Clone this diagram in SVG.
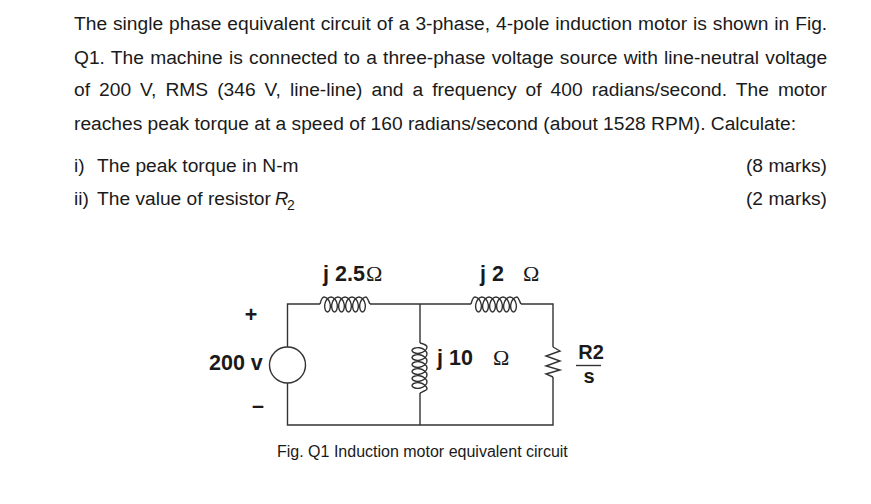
<svg xmlns="http://www.w3.org/2000/svg" width="871" height="504" viewBox="0 0 871 504">
<style>
text{font-family:"Liberation Sans",Arial,sans-serif;fill:#1a1a1a}
.b{font-size:19.2px}
.l{font-weight:bold;font-size:21.500px}
.o{font-family:"Liberation Serif","DejaVu Serif",serif;font-size:22px}
.w{fill:none;stroke:#333;stroke-width:1.400}
</style>
<defs>
<path id="coil" class="w" d="M0 0C1 -4 2 -7 4 -7c2.940 0 5.670 3.570 6.250 7.500c.58 3.930 -.98 7.500 -2.750 7.500c-1.770 0 -3.330 -3.570 -2.750 -7.500c.58 -3.930 3.310 -7.500 6.250 -7.500c2.940 0 5.670 3.570 6.250 7.500c.58 3.930 -.98 7.500 -2.750 7.500c-1.770 0 -3.330 -3.570 -2.750 -7.500c.58 -3.930 3.310 -7.500 6.250 -7.500c2.940 0 5.670 3.570 6.250 7.500c.58 3.930 -.98 7.500 -2.750 7.500c-1.770 0 -3.330 -3.570 -2.750 -7.500c.58 -3.930 3.310 -7.500 6.250 -7.500c2.940 0 5.670 3.570 6.250 7.500c.58 3.930 -.98 7.500 -2.750 7.500c-1.770 0 -3.330 -3.570 -2.750 -7.500c.58 -3.930 3.310 -7.500 6.250 -7.500c2.940 0 5.670 3.570 6.250 7.500c.58 3.930 -.98 7.500 -2.750 7.500c-1.770 0 -3.330 -3.570 -2.750 -7.500c.58 -3.930 3.310 -7.500 6.250 -7.500c2.940 0 5.670 3.570 6.250 7.500c.58 3.930 -.98 7.500 -2.750 7.500c-1.770 0 -3.330 -3.570 -2.750 -7.500c.58 -3.930 3.310 -7.500 6.250 -7.500C47 -7 48.500 -3 50 0"/>
</defs>
<rect width="871" height="504" fill="#fff"/>
<g id="problem-text">
<text class="b" x="74" y="30" word-spacing="0.62">The single phase equivalent circuit of a 3-phase, 4-pole induction motor is shown in Fig.</text>
<text class="b" x="74" y="63.500" word-spacing="0.93">Q1. The machine is connected to a three-phase voltage source with line-neutral voltage</text>
<text class="b" x="74" y="96" word-spacing="3.70">of 200 V, RMS (346 V, line-line) and a frequency of 400 radians/second. The motor</text>
<text class="b" x="74" y="129.500">reaches peak torque at a speed of 160 radians/second (about 1528 RPM). Calculate:</text>
<text class="b" x="74" y="172">i)</text><text class="b" x="97" y="172">The peak torque in N-m</text>
<text class="b" x="827" y="172" text-anchor="end">(8 marks)</text>
<text class="b" x="74" y="205">ii)</text><text class="b" x="97" y="205">The value of resistor</text>
<text x="275" y="205" font-family="Liberation Serif" font-style="italic" font-size="18.500">R</text><text x="287" y="210" font-family="Liberation Serif" font-size="14">2</text>
<text class="b" x="827" y="205" text-anchor="end">(2 marks)</text>
</g>
<g id="connectors">
<path class="w" d="M287.500 347V304H320M370 304H471M521 304H553V347M553 377V425H287.500V383M420 304V343M420 393V425"/>
</g>
<g id="source"><circle class="w" cx="287.500" cy="365" r="18" fill="#fff"/>
<text class="l" x="209" y="370">200 v</text>
<text class="l" x="251" y="322" text-anchor="middle">+</text>
<text class="l" x="258" y="413" text-anchor="middle">–</text></g>
<g id="L1"><use href="#coil" x="320" y="304"/>
<text class="l" x="323" y="281">j 2.5</text><text class="o" x="366" y="281">Ω</text></g>
<g id="L2"><use href="#coil" x="471" y="304"/>
<text class="l" x="480" y="281">j 2</text><text class="o" x="523" y="281">Ω</text></g>
<g id="L3"><use href="#coil" transform="translate(420 343) rotate(90)"/>
<text class="l" x="437" y="365">j 10</text><text class="o" x="493" y="365">Ω</text></g>
<g id="R2"><path class="w" d="M553 347L560 351L546 356L560 361L546 366L560 370L546 374L553 377"/>
<text class="l" x="591" y="359" text-anchor="middle" style="font-size:20px">R2</text>
<path class="w" d="M576 365.500H601"/>
<text class="l" x="589" y="383" text-anchor="middle" style="font-size:20px">s</text></g>
<text id="caption" x="277" y="457" font-size="16">Fig. Q1 Induction motor equivalent circuit</text>
</svg>
